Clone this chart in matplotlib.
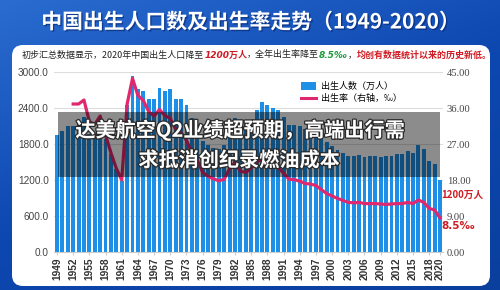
import matplotlib.pyplot as plt
import matplotlib.patheffects as pe
from matplotlib.patches import FancyBboxPatch, Rectangle, Patch
from matplotlib.lines import Line2D
from matplotlib.colors import LinearSegmentedColormap
import numpy as np

plt.rcParams['font.family'] = ['Noto Sans CJK SC', 'DejaVu Sans']

# births per year (10k people), 1949-2020
years = list(range(1949, 2021))
births = [1950, 2023, 2107, 2105, 2151, 2245, 1965, 1961, 2138, 1889,
          1635, 1389, 1189, 2451, 2934, 2721, 2679, 2554, 2543, 2731,
          2690, 2710, 2551, 2550, 2447, 2226, 2102, 1849, 1783, 1733,
          1715, 1776, 2064, 2230, 2052, 2050, 2196, 2374, 2508, 2445,
          2396, 2374, 2250, 2113, 2120, 2098, 2052, 2057, 2028, 1934,
          1827, 1771, 1702, 1647, 1599, 1593, 1617, 1585, 1594, 1608,
          1591, 1592, 1604, 1635, 1640, 1687, 1655, 1786, 1723, 1523,
          1465, 1200]

# birth rate (permille), right axis, line starts 1952
rate_years = list(range(1952, 2021))
rates = [37.0, 37.0, 38.0, 32.6, 31.9, 34.0, 29.2, 24.8, 20.9, 18.0,
         37.0, 43.4, 39.1, 37.9, 35.1, 34.0, 35.6, 34.1, 33.4, 30.7,
         29.8, 27.9, 24.8, 23.0, 19.9, 18.9, 18.3, 17.8, 18.2, 20.9,
         22.3, 20.2, 19.9, 21.0, 22.4, 23.3, 22.4, 21.6, 21.1, 19.7,
         18.2, 18.1, 17.7, 17.1, 17.0, 16.6, 15.6, 14.6, 14.0, 13.4,
         12.9, 12.4, 12.3, 12.4, 12.1, 12.1, 12.1, 12.0, 11.9, 12.0,
         12.1, 12.1, 12.4, 12.1, 13.0, 12.4, 10.9, 10.5, 8.5]

xtick_years = list(range(1949, 2019, 3)) + [2020]
left_ticks = [0, 600, 1200, 1800, 2400, 3000]
right_ticks = [0, 9, 18, 27, 36, 45]

bar_color = '#1e8fe6'
line_color = '#e0286e'
red = '#d01c24'

fig = plt.figure(figsize=(5, 2.9), dpi=100)

# background: blue gradient + white rounded panel (pixel coords)
bg = fig.add_axes([0, 0, 1, 1])
bg.set_xlim(0, 500)
bg.set_ylim(290, 0)
bg.axis('off')
grad = np.linspace(0, 1, 100).reshape(-1, 1) * np.ones((1, 100))
grad = grad * 0.6 + np.linspace(0, 1, 100).reshape(1, -1) * 0.4
cmap = LinearSegmentedColormap.from_list('bl', ['#2a6cd0', '#0d47b0', '#0a3f9e'])
bg.imshow(grad, extent=(0, 500, 290, 0), aspect='auto', cmap=cmap)
bg.add_patch(FancyBboxPatch((12, 45), 478, 241, boxstyle='round,pad=0,rounding_size=11',
                            facecolor='white', edgecolor='none'))

# title
bg.text(251, 22, '中国出生人口数及出生率走势（1949-2020）', color='white', fontsize=15,
        fontweight='bold', ha='center', va='center',
        path_effects=[pe.withSimplePatchShadow(offset=(1, -1), shadow_rgbFace='#06246a', alpha=0.6)])

# subtitle with coloured pieces
pieces = [
    ('初步汇总数据显示，2020年中国出生人口降至', '#222222', 'normal', 'normal'),
    ('1200万人', red, 'bold', 'italic'),
    ('，全年出生率降至', '#222222', 'normal', 'normal'),
    ('8.5‰', '#1a9a3a', 'bold', 'italic'),
    ('，', '#222222', 'normal', 'normal'),
    ('均创有数据统计以来的历史新低。', red, 'bold', 'normal'),
]
renderer = fig.canvas.get_renderer()


def draw_subtitle(size):
    items = []
    xpos = 22
    for txt, col, wt, st in pieces:
        fam = ['DejaVu Sans', 'Noto Sans CJK SC'] if st == 'italic' else ['Noto Sans CJK SC', 'DejaVu Sans']
        t = bg.text(xpos, 55, txt, color=col, fontsize=size, fontweight=wt, style=st,
                    family=fam, ha='left', va='center')
        xpos += t.get_window_extent(renderer).width
        items.append(t)
    return items, xpos - 22


size = 6.3
for _ in range(3):
    items, width = draw_subtitle(size)
    for t in items:
        t.remove()
    size *= 468 / width
draw_subtitle(size)

# main chart
ax = fig.add_axes([54.3 / 500, 1 - 252 / 290, 388.4 / 500, 180 / 290])
ax.patch.set_alpha(0)
x = np.arange(len(years))
ax.bar(x, births, width=0.72, color=bar_color, zorder=2)
ax.set_xlim(-0.5, len(years) - 0.5)
ax.set_ylim(0, 3000)
ax.set_yticks(left_ticks)
ax.set_yticklabels([f'{v:.1f}' for v in left_ticks], family='Liberation Sans',
                   fontsize=7.2, color='#444444')
ax.grid(axis='y', color='#dddddd', linewidth=0.8, zorder=0)
ax.set_xticks([years.index(y) for y in xtick_years])
ax.set_xticklabels([str(y) for y in xtick_years], rotation=90, family='Liberation Sans',
                   fontsize=7.3, fontweight='bold', color='#333333')
ax.tick_params(axis='y', length=0, pad=4)
ax.tick_params(axis='x', length=2, color='#cccccc', pad=2)
for s in ['top', 'right', 'left']:
    ax.spines[s].set_visible(False)
ax.spines['bottom'].set_color('#cccccc')

ax2 = ax.twinx()
rx = [years.index(y) for y in rate_years]
ax2.plot(rx, rates, color=line_color, linewidth=2.3, solid_joinstyle='round', zorder=3)
ax2.set_ylim(0, 45)
ax2.set_yticks(right_ticks)
ax2.set_yticklabels([f'{v:.2f}' for v in right_ticks], family='Liberation Serif',
                    fontsize=7.6, color='#444444')
ax2.tick_params(axis='y', length=0, pad=3)
for s in ax2.spines.values():
    s.set_visible(False)

# legend
handles = [Patch(facecolor=bar_color, edgecolor='none'),
           Line2D([0], [0], color=line_color, linewidth=2.2)]
fig.legend(handles, ['出生人数（万人）', '出生率（右轴，‰）'], loc='upper left',
           bbox_to_anchor=(293 / 500, 1 - 74 / 290), frameon=False, fontsize=6.5,
           handlelength=1.6, handleheight=0.9, labelspacing=0.35, handletextpad=0.6)

# end annotations
bg.text(441, 195, '1200万人', color=red, fontsize=7, fontweight='bold', ha='left', va='center')
bg.text(441, 226, '8.5‰', color=red, fontsize=7.5, fontweight='bold', ha='left', va='center',
        family=['DejaVu Sans', 'Noto Sans CJK SC'])

# headline overlay
ov = fig.add_axes([0, 0, 1, 1])
ov.set_xlim(0, 500)
ov.set_ylim(290, 0)
ov.axis('off')
ov.add_patch(Rectangle((58, 112), 382, 65, facecolor='black', alpha=0.45, edgecolor='none'))
stroke = [pe.withStroke(linewidth=1.8, foreground='#2a2a2a')]
ov.text(240, 130, '达美航空Q2业绩超预期，高端出行需', color='white', fontsize=14.5,
        fontweight='heavy', ha='center', va='center', path_effects=stroke)
ov.text(239, 160, '求抵消创纪录燃油成本', color='white', fontsize=14.5,
        fontweight='heavy', ha='center', va='center', path_effects=stroke)

fig.savefig('out.png', dpi=100)
